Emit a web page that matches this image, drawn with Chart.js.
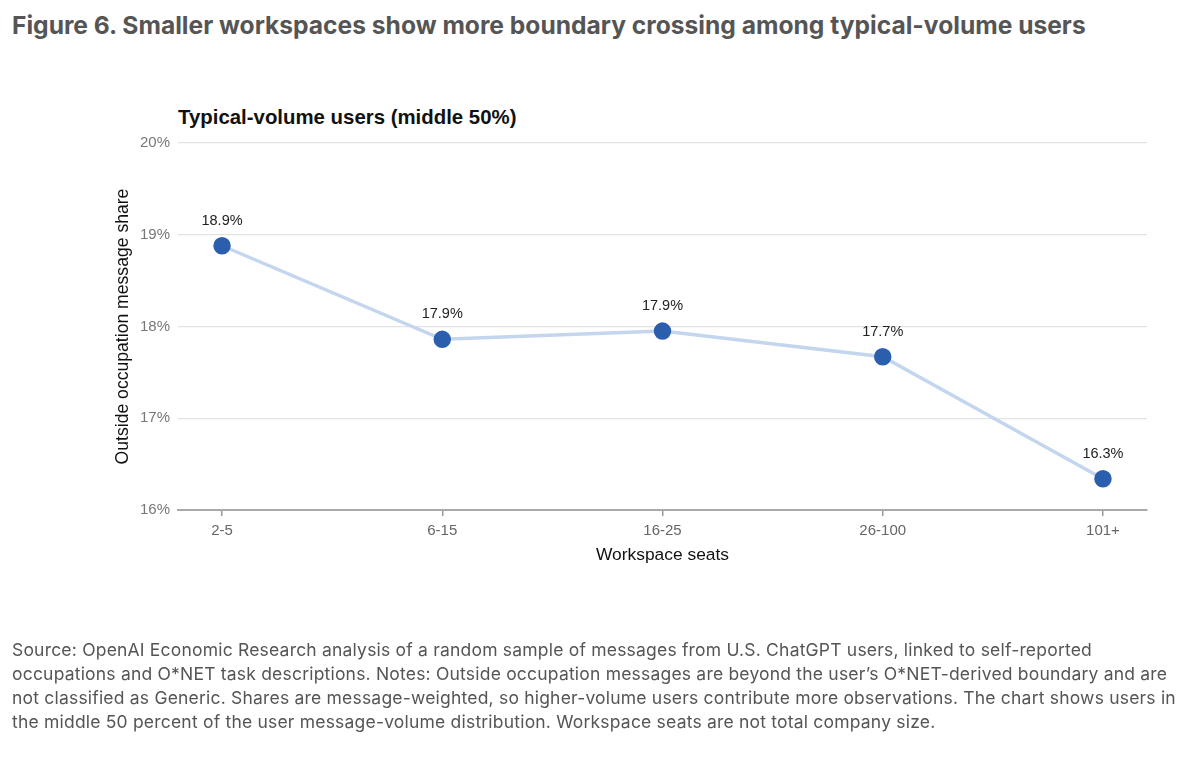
<!DOCTYPE html>
<html>
<head>
<meta charset="utf-8">
<script src="https://cdn.jsdelivr.net/npm/chart.js@4.4.0/dist/chart.umd.min.js"></script>
<style>
  body { margin: 0; background: #fff; width: 1200px; height: 757px; overflow: hidden; position: relative; font-family: Inter, "Noto Sans", sans-serif; }
  #fig-title { position: absolute; left: 12px; top: 10px; font-size: 24.6px; font-weight: 700; color: #555; white-space: nowrap; }
  #sub-title { position: absolute; left: 178px; top: 106px; font-size: 20.4px; font-weight: 700; color: #111; font-family: "Liberation Sans", Arial, sans-serif; white-space: nowrap; }
  #notes { position: absolute; left: 12px; top: 638px; font-size: 17.5px; letter-spacing: 0.2px; line-height: 24px; color: #555; white-space: nowrap; }
  canvas { position: absolute; left: 0; top: 0; }
</style>
</head>
<body>
<div id="fig-title">Figure 6. Smaller workspaces show more boundary crossing among typical-volume users</div>
<div id="sub-title">Typical-volume users (middle 50%)</div>
<canvas id="chart" width="1200" height="757"></canvas>
<div id="notes">Source: OpenAI Economic Research analysis of a random sample of messages from U.S. ChatGPT users, linked to self-reported<br>occupations and O*NET task descriptions. Notes: Outside occupation messages are beyond the user’s O*NET-derived boundary and are<br>not classified as Generic. Shares are message-weighted, so higher-volume users contribute more observations. The chart shows users in<br>the middle 50 percent of the user message-volume distribution. Workspace seats are not total company size.</div>
<script>
// veriler
var seatGroups = ['2-5', '6-15', '16-25', '26-100', '101+'];
var outsideShare = [18.88, 17.86, 17.95, 17.67, 16.34];
var shareLabels = ['18.9%', '17.9%', '17.9%', '17.7%', '16.3%'];
var yTicks = [16, 17, 18, 19, 20];

var points = seatGroups.map(function (g, i) {
    return { x: i, y: outsideShare[i] };
});

// nokta üstü etiketler
var pointLabels = {
    id: 'pointLabels',
    afterDatasetsDraw: function (chart) {
        var ctx = chart.ctx;
        var meta = chart.getDatasetMeta(0);
        ctx.save();
        ctx.font = '14.5px "Liberation Sans", Arial, sans-serif';
        ctx.fillStyle = '#222';
        ctx.textAlign = 'center';
        ctx.textBaseline = 'middle';
        meta.data.forEach(function (pt, i) {
            ctx.fillText(shareLabels[i], pt.x, pt.y - 25);
        });
        ctx.restore();
    }
};

var ctx = document.getElementById('chart').getContext('2d');
var chart = new Chart(ctx, {
    type: 'line',
    data: {
        datasets: [{
            data: points,
            borderColor: '#c3d6ee',
            borderWidth: 3.5,
            pointBackgroundColor: '#2b5fae',
            pointBorderColor: '#2b5fae',
            pointRadius: 7,
            tension: 0
        }]
    },
    plugins: [pointLabels],
    options: {
        responsive: false,
        animation: false,
        layout: { padding: { left: 109, right: 53, top: 143, bottom: 187 } },
        plugins: {
            legend: { display: false },
            tooltip: { enabled: false }
        },
        scales: {
            x: {
                type: 'linear',
                min: -0.2,
                max: 4.2,
                afterFit: function (s) { s.height = 60; },
                afterBuildTicks: function (s) {
                    s.ticks = seatGroups.map(function (g, i) { return { value: i }; });
                },
                ticks: {
                    callback: function (v) { return seatGroups[v]; },
                    color: '#666',
                    font: { size: 15, family: '"Liberation Sans", Arial, sans-serif' },
                    padding: 6,
                    maxRotation: 0
                },
                grid: { drawOnChartArea: false, drawTicks: true, tickLength: 6, color: '#999', lineWidth: 1.5 },
                border: { color: '#aaa', width: 2 },
                title: {
                    display: true,
                    text: 'Workspace seats',
                    color: '#111',
                    font: { size: 17.4, family: '"Liberation Sans", Arial, sans-serif' },
                    padding: { top: 0 }
                }
            },
            y: {
                min: 16,
                max: 20,
                afterFit: function (s) { s.width = 69; },
                afterBuildTicks: function (s) {
                    s.ticks = yTicks.map(function (v) { return { value: v }; });
                },
                ticks: {
                    callback: function (v) { return v + '%'; },
                    color: '#777',
                    font: { size: 15, family: '"Liberation Sans", Arial, sans-serif' },
                    padding: 8
                },
                grid: { color: '#e2e2e2', lineWidth: 1.2, drawTicks: false },
                border: { display: false },
                title: {
                    display: true,
                    text: 'Outside occupation message share',
                    color: '#111',
                    font: { size: 17.6, family: '"Liberation Sans", Arial, sans-serif' },
                    padding: { top: 4, bottom: 4 }
                }
            }
        }
    }
});
</script>
</body>
</html>
